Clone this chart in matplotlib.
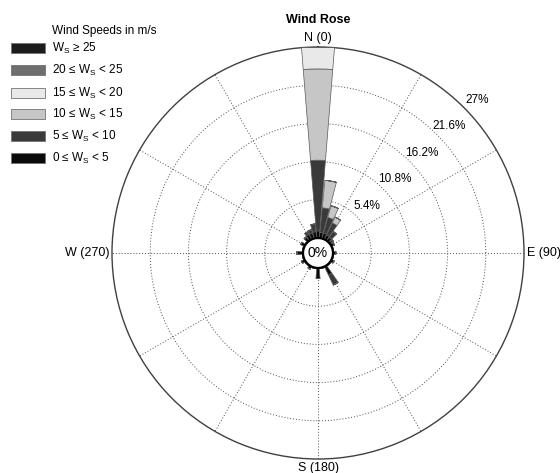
import numpy as np
import matplotlib
matplotlib.use("Agg")
import matplotlib.pyplot as plt
from matplotlib.patches import Rectangle

plt.rcParams['font.family'] = ['Liberation Sans', 'DejaVu Sans']
plt.rcParams['mathtext.fontset'] = 'custom'
plt.rcParams['mathtext.rm'] = 'Liberation Sans'
plt.rcParams['mathtext.it'] = 'Liberation Sans'

# ---- data -------------------------------------------------------------
directions = list(range(0, 360, 10))  # degrees, compass (0 = N, clockwise)
#            0    10   20   30   40   50   60   70   80   90   100  110  120  130  140  150  160  170  180  190  200  210  220  230  240  250  260  270  280  290  300  310  320  330  340  350
ws_0_5   = [1.0, 0.8, 0.8, 0.7, 0.6, 0.3, 0.45,0.1, 0.1, 0.4, 0.1, 0.1, 0.4, 0.1, 0.1, 1.3, 0.1, 0.1, 1.5, 0.1, 0.1, 0.4, 0.1, 0.1, 0.5, 0.1, 0.1, 0.85,0.1, 0.1, 0.6, 0.1, 0.6, 0.8, 0.8, 0.9]
ws_5_10  = [10.0,3.5, 2.3, 1.9, 1.0, 0.3, 0.0, 0.0, 0.0, 0.0, 0.0, 0.0, 0.0, 0.0, 0.0, 1.6, 0.0, 0.0, 0.0, 0.0, 0.0, 0.0, 0.0, 0.0, 0.0, 0.0, 0.0, 0.0, 0.0, 0.0, 0.0, 0.0, 0.1, 0.4, 0.5, 1.1]
ws_10_15 = [12.9,3.9, 1.7, 0.9, 0.0, 0.0, 0.0, 0.0, 0.0, 0.0, 0.0, 0.0, 0.0, 0.0, 0.0, 0.0, 0.0, 0.0, 0.0, 0.0, 0.0, 0.0, 0.0, 0.0, 0.0, 0.0, 0.0, 0.0, 0.0, 0.0, 0.0, 0.0, 0.0, 0.0, 0.0, 0.0]
ws_15_20 = [3.1, 0.0, 0.0, 0.0, 0.0, 0.0, 0.0, 0.0, 0.0, 0.0, 0.0, 0.0, 0.0, 0.0, 0.0, 0.0, 0.0, 0.0, 0.0, 0.0, 0.0, 0.0, 0.0, 0.0, 0.0, 0.0, 0.0, 0.0, 0.0, 0.0, 0.0, 0.0, 0.0, 0.0, 0.0, 0.0]
ws_20_25 = [0.0] * 36
ws_25_up = [0.0] * 36

bins = [ws_0_5, ws_5_10, ws_10_15, ws_15_20, ws_20_25, ws_25_up]
bin_labels = [r"0 ≤ W$_\mathrm{S}$ < 5", r"5 ≤ W$_\mathrm{S}$ < 10", r"10 ≤ W$_\mathrm{S}$ < 15",
              r"15 ≤ W$_\mathrm{S}$ < 20", r"20 ≤ W$_\mathrm{S}$ < 25", r"W$_\mathrm{S}$ ≥ 25"]
bin_colors = ['#0a0a0a', '#3a3a3a', '#c6c6c6', '#e9e9e9', '#6e6e6e', '#1c1c1c']

freq_ticks = [5.4, 10.8, 16.2, 21.6, 27]
freq_labels = ["5.4%", "10.8%", "16.2%", "21.6%", "27%"]
cardinals = [0, 90, 180, 270]
cardinal_labels = ["N (0)", "E (90)", "S (180)", "W (270)"]

# ---- figure ------------------------------------------------------------
W, H = 560, 473
fig = plt.figure(figsize=(W / 100, H / 100), dpi=100)
cx, cy, R = 318, 253, 206
ax = fig.add_axes([(cx - R) / W, (H - cy - R) / H, 2 * R / W, 2 * R / H], projection='polar')
ax.set_theta_zero_location('N')
ax.set_theta_direction(-1)
rmax = 27
r0px = 15
ax.set_ylim(0, rmax)
ax.set_rorigin(-rmax * r0px / (R - r0px))

theta = np.deg2rad(directions)
width = np.deg2rad(9.2)
bottom = np.zeros(len(directions))
for vals, col in zip(bins, bin_colors):
    vals = np.array(vals)
    ax.bar(theta, vals, width=width, bottom=bottom, color=col,
           edgecolor='0.35', linewidth=0.5, zorder=3, align='center')
    bottom += vals

# grid
ax.set_yticks(freq_ticks[:-1])
ax.set_yticklabels([])
ax.set_xticks(np.deg2rad(np.arange(0, 360, 30)))
ax.set_xticklabels([])
ax.grid(True, linestyle=(0, (1, 2)), color='0.3', linewidth=0.7)
ax.spines['polar'].set_color('0.25')
ax.spines['polar'].set_linewidth(1.0)
for s in ('inner', 'start', 'end'):
    if s in ax.spines:
        ax.spines[s].set_visible(False)

# inner circle
tt = np.linspace(0, 2 * np.pi, 361)
ax.plot(tt, np.zeros_like(tt), color='black', lw=1.6, zorder=5, clip_on=False)
ax.text(0.5, 0.5, "0%", transform=ax.transAxes, ha='center', va='center', fontsize=10, zorder=6)

# radial labels
lab_ang = np.deg2rad(46)
for v, lab in zip(freq_ticks, freq_labels):
    ax.text(lab_ang, v + 2.1, lab, ha='center', va='center', fontsize=8.5, zorder=6)

# cardinal labels
offs = {0: (0, 2, 'center', 'bottom'), 90: (2, 0, 'left', 'center'),
        180: (0, -2.5, 'center', 'top'), 270: (-2, 0, 'right', 'center')}
for a, lab in zip(cardinals, cardinal_labels):
    dx, dy, ha, va = offs[a]
    ax.annotate(lab, xy=(np.deg2rad(a), rmax), xytext=(dx, dy), textcoords='offset points',
                ha=ha, va=va, fontsize=9, annotation_clip=False)

# title
fig.text(cx / W, 1 - 20 / H, "Wind Rose", ha='center', va='center', fontsize=9, fontweight='bold')

# legend (drawn manually, MATLAB style)
fig.text(52 / W, 1 - 31 / H, "Wind Speeds in m/s", ha='left', va='center', fontsize=8.5)
row_y = [48, 70, 93, 114, 136, 158]
for i, y in enumerate(row_y):
    k = len(bins) - 1 - i
    fig.patches.append(Rectangle((11 / W, 1 - (y + 5) / H), 34 / W, 10 / H,
                                 transform=fig.transFigure, facecolor=bin_colors[k],
                                 edgecolor='0.45', linewidth=0.6))
    fig.text(52 / W, 1 - y / H, bin_labels[k], ha='left', va='center', fontsize=8.5)

fig.savefig("out.png", dpi=100)
